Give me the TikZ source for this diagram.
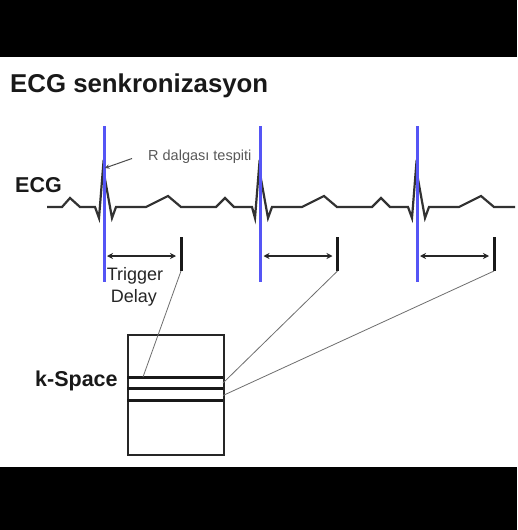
\documentclass[tikz,border=0pt]{standalone}
\usepackage{fontspec}
\setmainfont{Liberation Sans}
\usetikzlibrary{arrows.meta}
\definecolor{rblue}{RGB}{85,85,245}
\definecolor{ecggray}{RGB}{50,50,50}
\definecolor{thingray}{RGB}{110,110,110}
\tikzset{
  ecgline/.style={draw=ecggray, line width=2.2pt, line join=miter},
  rline/.style={draw=rblue, line width=3pt},
  delayarrow/.style={draw=black!85, line width=1.5pt, {Stealth[length=6pt,width=6pt]}-{Stealth[length=6pt,width=6pt]}},
  delaybar/.style={draw=black!90, line width=3pt},
  link/.style={draw=thingray, line width=0.8pt},
  kbox/.style={draw=black!85, line width=2pt},
  kline/.style={draw=black!90, line width=3pt},
  boldlbl/.style={font=\fontsize{21.5}{25}\selectfont\bfseries, text=black!90, inner sep=0pt},
}
\begin{document}
\begin{tikzpicture}[x=1pt,y=-1pt]
\useasboundingbox (0,0) rectangle (517,530);
\fill[white] (0,0) rectangle (517,530);
\fill[black] (0,0) rectangle (517,56.5);
\fill[black] (0,467) rectangle (517,530);

% title
\node[anchor=base west, inner sep=0pt, font=\fontsize{25.8}{30}\selectfont\bfseries, text=black!90] (title) at (10,92.5) {ECG senkronizasyon};

% ECG waveform
\draw[ecgline] (47,207) -- (62,207) -- (70,198) -- (80,207) -- (95,207)
  -- (99,218) -- (103,168) -- (112,218) -- (116,207) -- (146,207) -- (168,196) -- (181,207)
  -- (216,207) -- (225,198) -- (234,207) -- (252,207)
  -- (255,218) -- (259,168) -- (268,218) -- (272,207) -- (302,207) -- (324,196) -- (337,207)
  -- (372,207) -- (381,198) -- (390,207) -- (408,207)
  -- (412,218) -- (416,168) -- (425,218) -- (429,207) -- (459,207) -- (481,196) -- (494,207)
  -- (515,207);

\node[boldlbl, anchor=base west] (ecglbl) at (15,192) {ECG};

% R-wave trigger lines, delay arrows and bars
\foreach \i/\bx in {1/104, 2/260.5, 3/417}{
  \coordinate (rt\i) at (\bx,126);
  \coordinate (rb\i) at (\bx,282);
  \draw[rline] (rt\i) -- (rb\i);
  \coordinate (bt\i) at (\bx+77,237);
  \coordinate (bb\i) at (\bx+77,271);
  \draw[delaybar] (bt\i) -- (bb\i);
  \coordinate (as\i) at (\bx+3,256);
  \coordinate (ae\i) at (\bx+72,256);
  \draw[delayarrow] (as\i) -- (ae\i);
}

% R annotation
\node[anchor=base west, inner sep=0pt, font=\fontsize{14.5}{17}\selectfont, text=black!65] (rlbl) at (148,160) {R dalgası tespiti};
\coordinate (rpeak) at (105,168);
\coordinate (rfrom) at (132,158.5);
\draw[draw=black!70, line width=1pt, -{Stealth[length=4.5pt,width=4.5pt]}] (rfrom) -- (rpeak);

% Trigger Delay
\node[anchor=base, inner sep=0pt, font=\fontsize{18}{21}\selectfont, text=black!85] (trig) at (135,280) {Trigger};
\node[anchor=base, inner sep=0pt, font=\fontsize{18}{21}\selectfont, text=black!85] (delay) at (134,302) {Delay};

% k-Space
\node[kbox, minimum width=96pt, minimum height=120pt, inner sep=0pt, anchor=north west] (kspace) at (127,334) {};
\coordinate (l1w) at (127,377); \coordinate (l1e) at (223,377);
\coordinate (l2w) at (127,388.5); \coordinate (l2e) at (223,388.5);
\coordinate (l3w) at (127,400); \coordinate (l3e) at (223,400);
\draw[kline] (l1w) -- (l1e);
\draw[kline] (l2w) -- (l2e);
\draw[kline] (l3w) -- (l3e);
\node[boldlbl, anchor=base west] (klbl) at (35,386) {k-Space};

% links from delay bars to k-space lines
\coordinate (k1) at (143,377);
\coordinate (k2) at (223,383);
\coordinate (k3) at (223,395.5);
\draw[link] (bb1) -- (k1);
\draw[link] (bb2) -- (k2);
\draw[link] (bb3) -- (k3);
\end{tikzpicture}
\end{document}
